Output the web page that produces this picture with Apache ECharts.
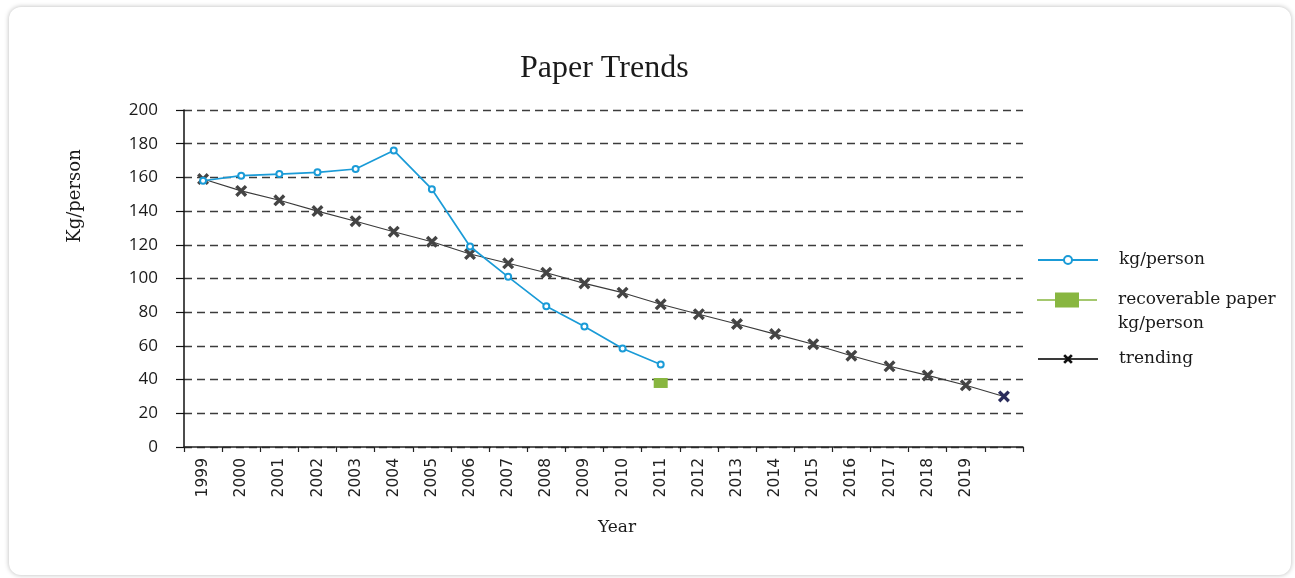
<!DOCTYPE html>
<html>
<head>
<meta charset="utf-8">
<script src="https://cdn.jsdelivr.net/npm/echarts@6/dist/echarts.min.js"></script>
<style>
  html, body { margin: 0; padding: 0; background: #ffffff; }
  #card {
    position: absolute; left: 9px; top: 7px; width: 1282px; height: 568px;
    background: #ffffff; border-radius: 12px;
    box-shadow: 0 0 5px rgba(0, 0, 0, 0.28);
  }
  #chart { position: absolute; left: 0; top: 0; width: 1295px; height: 578px; }
</style>
</head>
<body>
<div id="card"></div>
<div id="chart"></div>
<script>
// Years along the x axis (last slot is the end point of the trend line)
const years = ['1999', '2000', '2001', '2002', '2003', '2004', '2005', '2006', '2007', '2008',
  '2009', '2010', '2011', '2012', '2013', '2014', '2015', '2016', '2017', '2018', '2019', ''];

// Paper consumption, kg per person
const kgPerPerson = [158, 161, 162, 163, 165, 176, 153, 119, 101, 83.5, 71.5, 58.5, 49];

// Recoverable paper, kg per person (only 2011)
const recoverable = [null, null, null, null, null, null, null, null, null, null, null, null, 38];

// Linear trend
const trending = [159, 152, 146.4, 140, 134, 127.8, 121.8, 114.5, 109, 103.4, 97.1, 91.6,
  84.7, 78.8, 73, 67, 61, 54.2, 47.9, 42.5, 36.6, 30];

// Value axis ticks
const yTicks = [0, 20, 40, 60, 80, 100, 120, 140, 160, 180, 200];

const serif = '"DejaVu Serif", serif';
const crossPath = 'path://M2,0L5,3L8,0L10,2L7,5L10,8L8,10L5,7L2,10L0,8L3,5L0,2Z';
const greenIcon = 'path://M0,6.8H60V8.2H0Z M18,0H42V15H18Z';

const trendData = trending.map((v, i) => i === trending.length - 1
  ? { value: v, itemStyle: { color: '#2b2d5c' } }
  : v);

const chart = echarts.init(document.getElementById('chart'), null, { renderer: 'canvas' });

const legendBase = {
  orient: 'vertical',
  left: 1037,
  padding: 0,
  itemWidth: 60,
  textStyle: { fontFamily: serif, fontSize: 17, color: '#1a1a1a', lineHeight: 24, padding: [0, 0, 0, 16] }
};

chart.setOption({
  animation: false,
  backgroundColor: 'transparent',
  title: {
    text: 'Paper Trends',
    left: 515,
    top: 48,
    textStyle: { fontFamily: '"Liberation Serif", serif', fontSize: 32, fontWeight: 'normal', color: '#1a1a1a' }
  },
  legend: [
    Object.assign({}, legendBase, {
      top: 248, itemHeight: 10,
      data: ['kg/person']
    }),
    Object.assign({}, legendBase, {
      top: 264, itemHeight: 15,
      // empty first line keeps the icon level with "recoverable paper"
      formatter: () => ' \nrecoverable paper\nkg/person',
      data: [{ name: 'recoverable paper kg/person', icon: greenIcon }]
    }),
    Object.assign({}, legendBase, {
      top: 347, itemHeight: 12,
      data: [{ name: 'trending', itemStyle: { color: '#111' } }]
    })
  ],
  grid: { left: 184, right: 272, top: 110, bottom: 131, containLabel: false },
  xAxis: {
    type: 'category',
    data: years,
    boundaryGap: true,
    axisLine: { lineStyle: { color: '#222', width: 1.5 } },
    axisTick: { show: true, length: 5, lineStyle: { color: '#222', width: 1.2 } },
    axisLabel: {
      rotate: 90, margin: 11, interval: 0,
      fontFamily: '"DejaVu Sans", sans-serif', fontSize: 15.5, color: '#222'
    },
    splitLine: { show: false }
  },
  yAxis: {
    type: 'value',
    min: yTicks[0],
    max: yTicks[yTicks.length - 1],
    interval: yTicks[1] - yTicks[0],
    axisLine: { show: true, lineStyle: { color: '#111', width: 1.5 } },
    axisTick: { show: true, length: 8, lineStyle: { color: '#111', width: 1.2 } },
    axisLabel: { margin: 26, fontFamily: '"Open Sans", sans-serif', fontSize: 17, color: '#1a1a1a' },
    splitLine: { show: true, lineStyle: { color: '#3c3c3c', width: 1.4, type: [8, 5] } }
  },
  graphic: [
    {
      type: 'text', x: 75, y: 196, rotation: Math.PI / 2,
      style: { text: 'Kg/person', fontFamily: serif, fontSize: 18, fill: '#1a1a1a',
        align: 'center', verticalAlign: 'middle' }
    },
    {
      type: 'text', x: 617, y: 528,
      style: { text: 'Year', fontFamily: serif, fontSize: 17, fill: '#1a1a1a',
        align: 'center', verticalAlign: 'middle' }
    }
  ],
  series: [
    {
      name: 'trending',
      type: 'line',
      data: trendData,
      symbol: crossPath,
      symbolSize: 12,
      z: 2,
      lineStyle: { color: '#3a3a3a', width: 1.1 },
      itemStyle: { color: '#444' }
    },
    {
      name: 'kg/person',
      type: 'line',
      data: kgPerPerson,
      symbol: 'emptyCircle',
      symbolSize: 6,
      z: 3,
      lineStyle: { color: '#1a9bd7', width: 1.7 },
      itemStyle: { color: '#1a9bd7', borderWidth: 1.8 }
    },
    {
      name: 'recoverable paper kg/person',
      type: 'line',
      data: recoverable,
      symbol: 'rect',
      symbolSize: [14, 10],
      z: 3,
      lineStyle: { color: '#a6cc6c', width: 1.5 },
      itemStyle: { color: '#88b640' }
    }
  ]
});
</script>
</body>
</html>
